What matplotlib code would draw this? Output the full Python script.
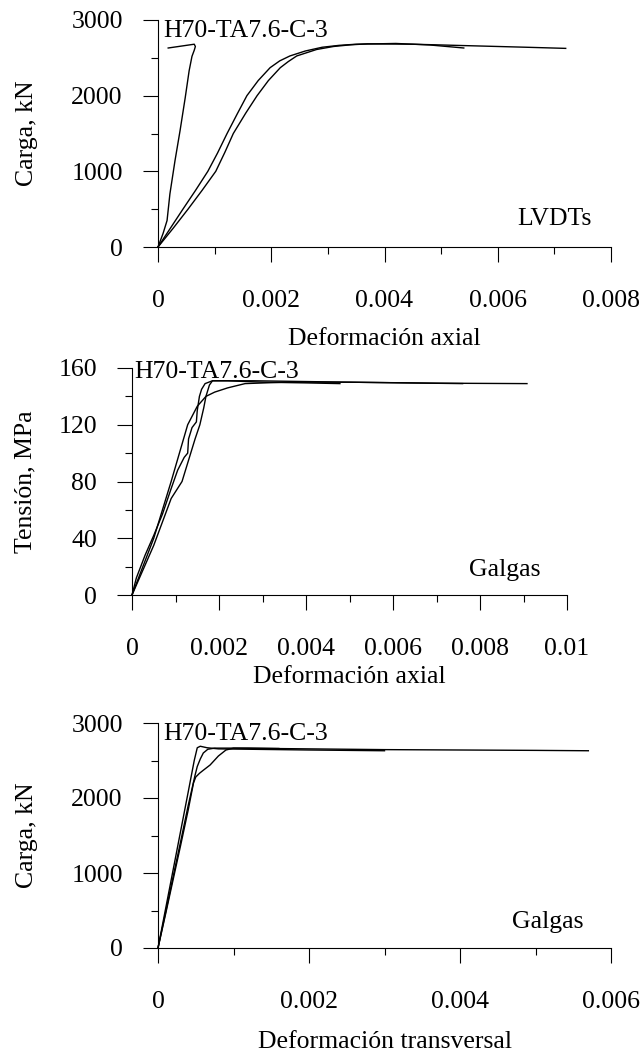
import numpy as np
import matplotlib
matplotlib.use("Agg")
import matplotlib.pyplot as plt
from matplotlib.ticker import MultipleLocator, FuncFormatter

plt.rcParams["font.family"] = ["Liberation Serif", "DejaVu Serif"]
plt.rcParams["font.size"] = 18.5

# ── Panel 1: LVDTs, carga vs deformación axial ──────────────────────────────
p1_a_x = [0, 0.00009, 0.00016, 0.00021, 0.0003, 0.00039, 0.00048, 0.00055,
          0.0006, 0.00064, 0.00066, 0.00064, 0.00018]
p1_a_y = [0, 180, 350, 700, 1140, 1540, 1970, 2330, 2520, 2600, 2650, 2680, 2630]
p1_b_x = [0, 0.00022, 0.00044, 0.00066, 0.00088, 0.00105, 0.00122,
          0.0014, 0.00157, 0.00177, 0.00198, 0.00215, 0.00233, 0.0026, 0.0029,
          0.0032, 0.0035, 0.0042, 0.0048, 0.0054]
p1_b_y = [0, 250, 500, 745, 1000, 1240, 1500, 1760, 2000, 2200, 2370,
          2460, 2525, 2590, 2640, 2665, 2680, 2690, 2670, 2630]
p1_c_x = [0, 0.00027, 0.00053, 0.00078, 0.00102, 0.00118, 0.00133,
          0.00155, 0.00175, 0.00195, 0.00216, 0.0023, 0.00245, 0.0028, 0.0031,
          0.0034, 0.0037, 0.0045, 0.0055, 0.0065, 0.0072]
p1_c_y = [0, 250, 500, 750, 1000, 1250, 1500, 1770, 2000, 2200, 2370,
          2450, 2525, 2610, 2650, 2672, 2685, 2680, 2660, 2640, 2625]

# ── Panel 2: Galgas, tensión vs deformación axial ───────────────────────────
p2_a_x = [0, 0.0005, 0.0009, 0.00128, 0.0015, 0.0017, 0.0019, 0.0022, 0.0026,
          0.0035, 0.005, 0.007, 0.00908]
p2_a_y = [0, 40, 80, 120, 133, 140, 143, 146, 149, 150, 150, 149.3, 149]
p2_b_x = [0, 0.0001, 0.0003, 0.0005, 0.0007, 0.0009, 0.00105, 0.0012, 0.00128,
          0.0013, 0.00138, 0.00148, 0.0015, 0.00155, 0.0016, 0.00168, 0.00185,
          0.0022, 0.003, 0.004, 0.00478]
p2_b_y = [0, 12, 28, 42, 57, 75, 88, 97, 100, 110, 118, 122, 130, 140, 145,
          149, 151, 151, 150, 149.5, 149]
p2_c_x = [0, 0.0002, 0.0005, 0.0009, 0.00115, 0.0013, 0.00145, 0.00156,
          0.00165, 0.0017, 0.00178, 0.00185, 0.0028, 0.005, 0.0076]
p2_c_y = [0, 14, 35, 68, 80, 95, 110, 120, 132, 140, 148, 151, 151, 150, 149]

# ── Panel 3: Galgas, carga vs deformación transversal ───────────────────────
p3_a_x = [0, 0.0001, 0.0002, 0.0003, 0.0004, 0.00048, 0.00052, 0.00056,
          0.00065, 0.0008, 0.0012, 0.002, 0.003]
p3_a_y = [0, 520, 1040, 1560, 2080, 2500, 2670, 2690, 2670, 2655, 2650, 2640,
          2630]
p3_b_x = [0, 0.0001, 0.0002, 0.0003, 0.0004, 0.00049, 0.00052, 0.00056, 0.0006,
          0.00066, 0.00075, 0.001, 0.002, 0.003, 0.004, 0.005, 0.0057]
p3_b_y = [0, 470, 950, 1420, 1900, 2300, 2420, 2520, 2600, 2650, 2665, 2665,
          2655, 2645, 2640, 2635, 2630]
p3_c_x = [0, 0.0001, 0.0002, 0.0003, 0.0004, 0.00047, 0.0005, 0.00055, 0.0006,
          0.00069, 0.0008, 0.0009, 0.001, 0.0012, 0.0016]
p3_c_y = [0, 450, 910, 1370, 1840, 2200, 2280, 2330, 2370, 2440, 2560, 2640,
          2665, 2665, 2660]

specimen = "H70-TA7.6-C-3"


def strain_fmt(v, pos):
    return f"{v:g}"


def style_axis(ax, xmax, xmajor, ymax, ymajor, yminor):
    ax.set_xlim(0, xmax)
    ax.set_ylim(0, ymax)
    for side in ("top", "right"):
        ax.spines[side].set_visible(False)
    for side in ("left", "bottom"):
        ax.spines[side].set_linewidth(0.8)
    ax.xaxis.set_major_locator(MultipleLocator(xmajor))
    ax.xaxis.set_minor_locator(MultipleLocator(xmajor / 2))
    ax.yaxis.set_major_locator(MultipleLocator(ymajor))
    ax.yaxis.set_minor_locator(MultipleLocator(yminor))
    ax.xaxis.set_major_formatter(FuncFormatter(strain_fmt))
    ax.tick_params(which="major", direction="out", length=10.8, width=0.8)
    ax.tick_params(which="minor", direction="out", length=5, width=0.8)
    ax.tick_params(axis="x", which="major", pad=20)
    ax.tick_params(axis="y", which="major", pad=14.5)


fig = plt.figure(figsize=(6.44, 10.57), dpi=100)
H = 1057.0
W = 644.0

# axes placed from pixel coordinates of the reference
ax1 = fig.add_axes([158 / W, 1 - 247 / H, 453 / W, 227 / H])
ax2 = fig.add_axes([132 / W, 1 - 595 / H, 435 / W, 227 / H])
ax3 = fig.add_axes([158 / W, 1 - 948 / H, 453 / W, 225 / H])

lw = 1.0
for xs, ys in [(p1_a_x, p1_a_y), (p1_b_x, p1_b_y), (p1_c_x, p1_c_y)]:
    ax1.plot(xs, ys, color="black", lw=lw, clip_on=False)
for xs, ys in [(p2_a_x, p2_a_y), (p2_b_x, p2_b_y), (p2_c_x, p2_c_y)]:
    ax2.plot(xs, ys, color="black", lw=lw, clip_on=False)
for xs, ys in [(p3_a_x, p3_a_y), (p3_b_x, p3_b_y), (p3_c_x, p3_c_y)]:
    ax3.plot(xs, ys, color="black", lw=lw, clip_on=False)

style_axis(ax1, 0.008, 0.002, 3000, 1000, 500)
style_axis(ax2, 0.01, 0.002, 160, 40, 20)
style_axis(ax3, 0.006, 0.002, 3000, 1000, 500)

ax1.set_ylabel("Carga, kN", va="center")
ax1.yaxis.set_label_coords(-0.29, 0.5)
ax1.set_xlabel("Deformación axial", va="center")
ax1.xaxis.set_label_coords(0.5, -0.405)

ax2.set_ylabel("Tensión, MPa", va="center")
ax2.yaxis.set_label_coords(-0.245, 0.5)
ax2.set_xlabel("Deformación axial", va="center")
ax2.xaxis.set_label_coords(0.5, -0.361)

ax3.set_ylabel("Carga, kN", va="center")
ax3.yaxis.set_label_coords(-0.29, 0.5)
ax3.set_xlabel("Deformación transversal", va="center")
ax3.xaxis.set_label_coords(0.5, -0.418)

# specimen labels at the top left of each panel
ax1.annotate(specimen, xy=(0, 1), xycoords="axes fraction", xytext=(4, -12.2),
             textcoords="offset points", va="baseline", ha="left")
ax2.annotate(specimen, xy=(0, 1), xycoords="axes fraction", xytext=(2, -7.2),
             textcoords="offset points", va="baseline", ha="left")
ax3.annotate(specimen, xy=(0, 1), xycoords="axes fraction", xytext=(4, -12.2),
             textcoords="offset points", va="baseline", ha="left")

ax1.text(0.00765, 290, "LVDTs", ha="right", va="baseline")
ax2.text(0.00938, 13.4, "Galgas", ha="right", va="baseline")
ax3.text(0.00563, 267, "Galgas", ha="right", va="baseline")

fig.savefig("out.png", dpi=100)
plt.close(fig)
